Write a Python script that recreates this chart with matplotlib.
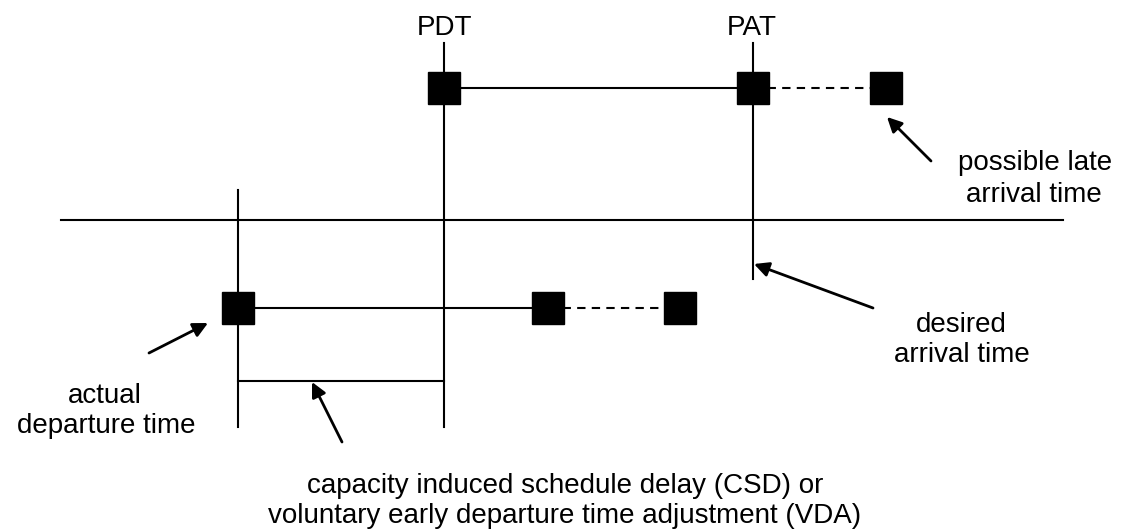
import matplotlib.pyplot as plt

plt.rcParams['font.family'] = ['Liberation Sans', 'DejaVu Sans']

# key time positions (pixel-like diagram units)
pdt_x = 444
pat_x = 753
adt_x = 238
late_x = 886
early_x = [548, 680]
axis_y = 220
top_y = 88
low_y = 308
bracket_y = 381

top_marks = [pdt_x, pat_x, late_x]
low_marks = [adt_x] + early_x

# labels: (text, x centre, baseline y)
labels = [
    ("PDT", 445, 35),
    ("PAT", 752, 35),
    ("possible late", 1035, 170),
    ("arrival time", 1034, 202),
    ("desired", 961, 332),
    ("arrival time", 962, 362),
    ("actual", 105, 403),
    ("departure time", 106, 433),
    ("capacity induced schedule delay (CSD) or", 565, 493),
    ("voluntary early departure time adjustment (VDA)", 565, 523),
]

# arrows: (tip, tail)
arrows = [
    ((887, 117), (931, 161)),
    ((754, 264), (873, 308)),
    ((208, 323), (149, 353)),
    ((312, 382), (342, 442)),
]

fig = plt.figure(figsize=(11.22, 5.32), dpi=100)
ax = fig.add_axes([0, 0, 1, 1])
ax.set_xlim(0, 1122)
ax.set_ylim(532, 0)
ax.axis("off")

lw = 1.5
k = "black"
dash = (0, (4, 3))

# time axis and vertical markers
ax.plot([61, 1063], [axis_y, axis_y], color=k, lw=lw)
ax.plot([pdt_x, pdt_x], [43, 427], color=k, lw=lw)
ax.plot([pat_x, pat_x], [43, 279], color=k, lw=lw)
ax.plot([adt_x, adt_x], [190, 427], color=k, lw=lw)

# top trip
ax.plot([pdt_x, pat_x], [top_y, top_y], color=k, lw=lw)
ax.plot([pat_x, late_x], [top_y, top_y], color=k, lw=lw, ls=dash)
ax.plot(top_marks, [top_y] * 3, ls="none", marker="s", ms=22.5, color=k)

# lower trip
ax.plot([adt_x, early_x[0]], [low_y, low_y], color=k, lw=lw)
ax.plot(early_x, [low_y, low_y], color=k, lw=lw, ls=dash)
ax.plot(low_marks, [low_y] * 3, ls="none", marker="s", ms=22.5, color=k)

# delay bracket
ax.plot([adt_x, pdt_x], [bracket_y, bracket_y], color=k, lw=lw)

ap = dict(arrowstyle="-|>", color=k, lw=2, mutation_scale=22, shrinkA=0, shrinkB=0)
for tip, tail in arrows:
    ax.annotate("", xy=tip, xytext=tail, arrowprops=ap)

for txt, x, y in labels:
    ax.text(x, y, txt, ha="center", va="baseline", fontsize=20)

fig.savefig("out.png", dpi=100)
